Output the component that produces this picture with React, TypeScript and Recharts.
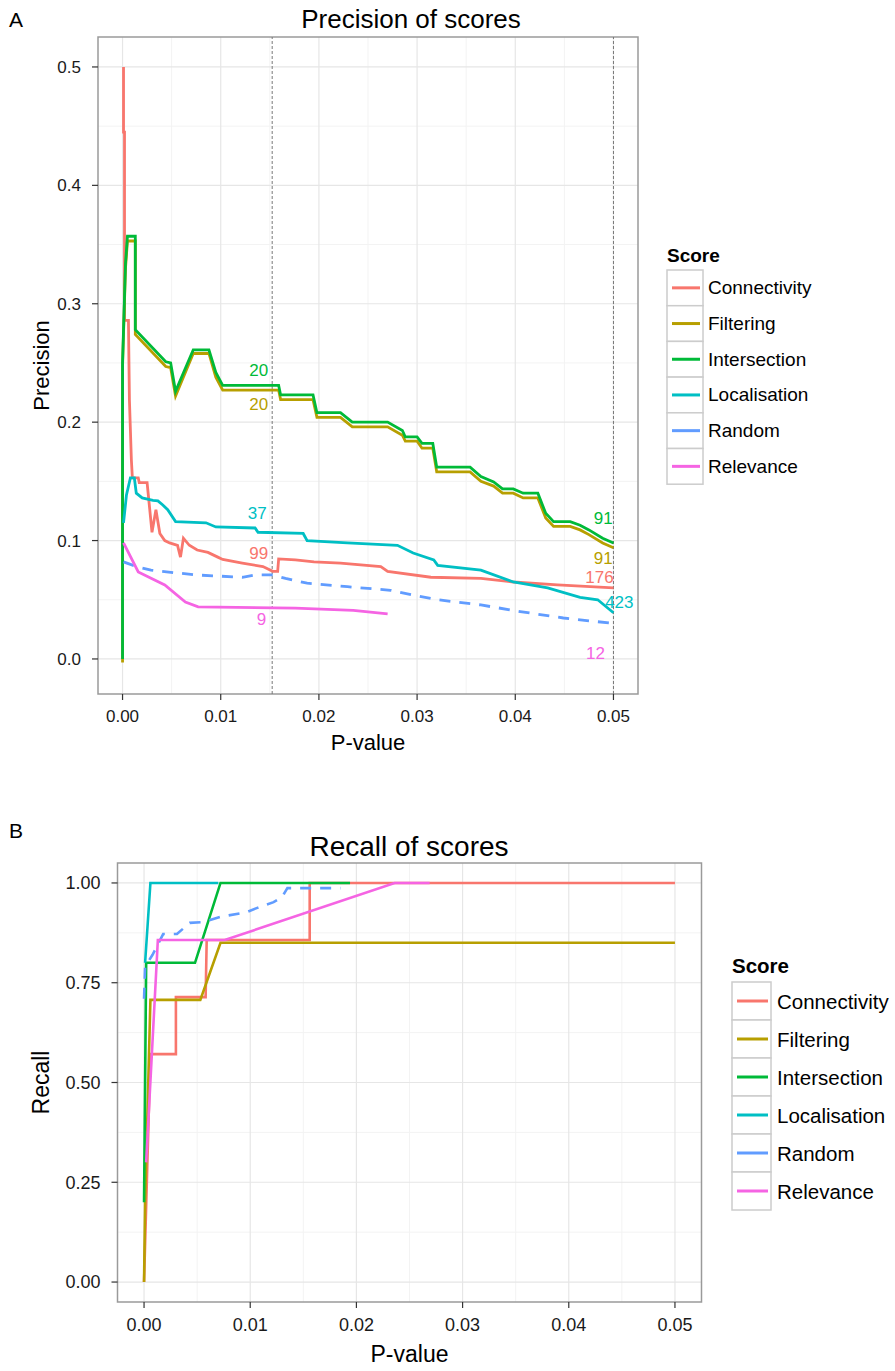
import React from 'react';
import {
  LineChart, Line, XAxis, YAxis, CartesianGrid, ReferenceLine, ReferenceDot, ReferenceArea, Legend,
} from 'recharts';

// ---------- shared ----------
const seriesNames = ['Connectivity', 'Filtering', 'Intersection', 'Localisation', 'Random', 'Relevance'];
const seriesColors = ['#F8766D', '#B79F00', '#00BA38', '#00BFC4', '#619CFF', '#F564E3'];
const seriesDashed = [false, false, false, false, true, false];

const xTicks = [0, 0.01, 0.02, 0.03, 0.04, 0.05];
const xMinor = [0.005, 0.015, 0.025, 0.035, 0.045];

// ---------- panel A: precision ----------
const precConnectivity: [number, number][] = [
  [0.0001, 0.5], [0.0001, 0.445], [0.0002, 0.445], [0.0002, 0.286], [0.0006, 0.286], [0.0007, 0.219],
  [0.0009, 0.168], [0.001, 0.153], [0.0016, 0.153], [0.0017, 0.149], [0.0025, 0.149], [0.003, 0.107],
  [0.0034, 0.126], [0.0038, 0.106], [0.0043, 0.1], [0.0048, 0.098], [0.0056, 0.096], [0.0059, 0.086],
  [0.0062, 0.102], [0.0068, 0.096], [0.0076, 0.092], [0.0087, 0.09], [0.0097, 0.086], [0.0102, 0.084],
  [0.0122, 0.081], [0.0143, 0.078], [0.0153, 0.074], [0.0158, 0.074], [0.0159, 0.0845], [0.0176, 0.0836],
  [0.0195, 0.082], [0.0222, 0.081], [0.0263, 0.078], [0.027, 0.074], [0.0314, 0.069], [0.0365, 0.068],
  [0.0398, 0.065], [0.0443, 0.0625], [0.05, 0.06],
];
const precFiltering: [number, number][] = [
  [0, -0.003], [0, 0.247], [0.0003, 0.33], [0.0005, 0.353], [0.0013, 0.353], [0.0013, 0.274],
  [0.0044, 0.247], [0.0049, 0.246], [0.0054, 0.222], [0.0072, 0.258], [0.0088, 0.258], [0.0095, 0.238],
  [0.0102, 0.227], [0.0159, 0.227], [0.0161, 0.219], [0.0194, 0.219], [0.0198, 0.204], [0.0222, 0.204],
  [0.0234, 0.196], [0.027, 0.196], [0.0285, 0.189], [0.0288, 0.184], [0.03, 0.184], [0.0305, 0.178],
  [0.0316, 0.178], [0.032, 0.158], [0.0354, 0.158], [0.0365, 0.15], [0.0378, 0.146], [0.0387, 0.14],
  [0.0398, 0.14], [0.0408, 0.136], [0.0423, 0.136], [0.0431, 0.119], [0.0439, 0.112], [0.0456, 0.112],
  [0.0466, 0.109], [0.0475, 0.105], [0.0489, 0.098], [0.05, 0.094],
];
const precIntersection: [number, number][] = [
  [0, 0], [0, 0.25], [0.0003, 0.334], [0.0005, 0.357], [0.0013, 0.357], [0.0013, 0.278],
  [0.0044, 0.251], [0.0049, 0.25], [0.0054, 0.226], [0.0072, 0.261], [0.0088, 0.261], [0.0095, 0.242],
  [0.0102, 0.231], [0.0159, 0.231], [0.0161, 0.223], [0.0194, 0.223], [0.0198, 0.208], [0.0222, 0.208],
  [0.0234, 0.2], [0.027, 0.2], [0.0285, 0.193], [0.0288, 0.1875], [0.03, 0.1875], [0.0305, 0.182],
  [0.0316, 0.182], [0.032, 0.162], [0.0354, 0.162], [0.0365, 0.154], [0.0378, 0.1495], [0.0387, 0.1436],
  [0.0398, 0.1436], [0.0408, 0.14], [0.0423, 0.14], [0.0431, 0.123], [0.0439, 0.116], [0.0456, 0.116],
  [0.0466, 0.113], [0.0475, 0.109], [0.0489, 0.102], [0.05, 0.098],
];
const precLocalisation: [number, number][] = [
  [0.0001, 0.115], [0.0004, 0.1385], [0.0008, 0.153], [0.0012, 0.153], [0.0014, 0.14], [0.002, 0.136],
  [0.0031, 0.134], [0.0036, 0.1335], [0.0041, 0.13], [0.0046, 0.126], [0.0054, 0.116], [0.0085, 0.115],
  [0.0095, 0.1115], [0.0135, 0.1106], [0.0138, 0.107], [0.0184, 0.106], [0.0188, 0.1], [0.0229, 0.098],
  [0.028, 0.096], [0.0296, 0.0895], [0.0317, 0.0836], [0.0321, 0.079], [0.0365, 0.075], [0.0398, 0.065],
  [0.0433, 0.06], [0.0466, 0.052], [0.0484, 0.05], [0.05, 0.039],
];
const precRandom: [number, number][] = [
  [0.0001, 0.082], [0.0015, 0.0777], [0.0029, 0.075], [0.0074, 0.071], [0.0122, 0.069], [0.0135, 0.071],
  [0.0153, 0.071], [0.0166, 0.068], [0.0188, 0.064], [0.0229, 0.061], [0.0273, 0.058], [0.0296, 0.054],
  [0.0321, 0.05], [0.0365, 0.0456], [0.0405, 0.04], [0.0449, 0.0346], [0.05, 0.03],
];
const precRelevance: [number, number][] = [
  [0.0001, 0.098], [0.0016, 0.0735], [0.0043, 0.0625], [0.0064, 0.048], [0.0077, 0.044], [0.0176, 0.043],
  [0.0235, 0.041], [0.027, 0.038],
];
const precSeries = [precConnectivity, precFiltering, precIntersection, precLocalisation, precRandom, precRelevance];
const precYTicks = [0, 0.1, 0.2, 0.3, 0.4, 0.5];
const precYMinor = [0.05, 0.15, 0.25, 0.35, 0.45];
const precCutoffs = [0.01524, 0.05];
// count annotations: [x, y, text, series index]
const precNotes: [number, number, string, number][] = [
  [0.01388, 0.2441, '20', 2], [0.01388, 0.2154, '20', 1], [0.01371, 0.1236, '37', 3],
  [0.01388, 0.0898, '99', 0], [0.01415, 0.0335, '9', 5],
  [0.04895, 0.1188, '91', 2], [0.04895, 0.0856, '91', 1], [0.04857, 0.0695, '176', 0],
  [0.0506, 0.0484, '423', 3], [0.04817, 0.0048, '12', 5],
];

// ---------- panel B: recall ----------
const recConnectivity: [number, number][] = [
  [0, 0], [0.0006, 0.571], [0.003, 0.571], [0.003, 0.714], [0.0058, 0.714], [0.0059, 0.857],
  [0.0156, 0.857], [0.0156, 1.0], [0.05, 1.0],
];
const recFiltering: [number, number][] = [
  [0, 0], [0.0001, 0.2], [0.0006, 0.707], [0.0053, 0.707], [0.0072, 0.85], [0.05, 0.85],
];
const recIntersection: [number, number][] = [
  [0, 0.2], [0.0002, 0.8], [0.0048, 0.8], [0.0072, 1.0], [0.0194, 1.0],
];
const recLocalisation: [number, number][] = [
  [0.0001, 0.8], [0.0006, 1.0], [0.007, 1.0],
];
const recRandom: [number, number][] = [
  [0, 0.71], [0.0001, 0.79], [0.0008, 0.82], [0.0018, 0.872], [0.0031, 0.872], [0.0043, 0.9],
  [0.0056, 0.902], [0.0072, 0.915], [0.0097, 0.927], [0.0106, 0.937], [0.0122, 0.952], [0.013, 0.965],
  [0.0135, 0.987], [0.0185, 0.987],
];
const recRelevance: [number, number][] = [
  [0.0002, 0.3], [0.0013, 0.857], [0.0076, 0.857], [0.0236, 1.0], [0.0269, 1.0],
];
const recSeries = [recConnectivity, recFiltering, recIntersection, recLocalisation, recRandom, recRelevance];
const recYTicks = [0, 0.25, 0.5, 0.75, 1.0];
const recYMinor = [0.125, 0.375, 0.625, 0.875];

const FONT = '"Liberation Sans", Arial, Helvetica, sans-serif';

const toRows = (pts: [number, number][]) => pts.map(([x, y]) => ({ x, y }));

function LegendBox({ fontSize, rowH, boxW, lineX1, lineX2, textX, titleY, rowTop }: any) {
  return (
    <svg width={200} height={rowTop + rowH * 6 + 4} style={{ overflow: 'visible', display: 'block' }}>
      <text x={7} y={titleY} fontSize={fontSize} fontWeight="bold" fill="#000" fontFamily={FONT}>Score</text>
      {seriesNames.map((n, i) => {
        const y0 = rowTop + i * rowH;
        return (
          <g key={n}>
            <rect x={7} y={y0} width={boxW} height={rowH} fill="#fff" stroke="#cccccc" strokeWidth={1.5} />
            <line x1={lineX1} x2={lineX2} y1={y0 + rowH / 2} y2={y0 + rowH / 2} stroke={seriesColors[i]} strokeWidth={3} />
            <text x={textX} y={y0 + rowH / 2} dominantBaseline="central" fontSize={fontSize} fill="#000" fontFamily={FONT}>{n}</text>
          </g>
        );
      })}
    </svg>
  );
}

function YTitle(props: any) {
  const { viewBox, text, cx, fontSize } = props;
  const cy = viewBox.y + viewBox.height / 2;
  return (
    <text x={cx} y={cy} transform={`rotate(-90 ${cx} ${cy})`} textAnchor="middle" dominantBaseline="central"
      fontSize={fontSize} fill="#000" fontFamily={FONT}>{text}</text>
  );
}

export default function App() {
  return (
    <div style={{ position: 'relative', width: 895, height: 1371, background: '#fff', fontFamily: FONT, overflow: 'hidden' }}>
      <style>{'body{margin:0;}'}</style>

      {/* Panel A */}
      <div style={{ position: 'absolute', left: 0, top: 0 }}>
        <LineChart width={895} height={790} margin={{ top: 37, right: 257, bottom: 0, left: 0 }}>
          <CartesianGrid stroke="#f3f3f3" strokeWidth={1} verticalValues={xMinor} horizontalValues={precYMinor} />
          <CartesianGrid stroke="#e6e6e6" strokeWidth={1.2} verticalValues={xTicks} horizontalValues={precYTicks} />
          <XAxis type="number" dataKey="x" domain={[-0.0025, 0.0525]} allowDataOverflow ticks={xTicks}
            tickFormatter={(v: number) => v.toFixed(2)} height={96} axisLine={false}
            tick={{ fontSize: 17, fill: '#1a1a1a', fontFamily: FONT }} tickLine={{ stroke: '#333', strokeWidth: 1.2 }}
            tickSize={6} tickMargin={10}
            label={{ value: 'P-value', position: 'insideBottom', offset: 40, fontSize: 22, fill: '#000', fontFamily: FONT }} />
          <YAxis type="number" domain={[-0.0296, 0.5253]} allowDataOverflow ticks={precYTicks}
            tickFormatter={(v: number) => v.toFixed(1)} width={98} axisLine={false}
            tick={{ fontSize: 17, fill: '#1a1a1a', fontFamily: FONT }} tickLine={{ stroke: '#333', strokeWidth: 1.2 }}
            tickSize={6} tickMargin={11}
            label={{ content: (p: any) => <YTitle {...p} text="Precision" cx={41} fontSize={22} /> }} />
          {precCutoffs.map((c) => (
            <ReferenceLine key={c} x={c} stroke="#777" strokeWidth={1} strokeDasharray="3 2" />
          ))}
          {precSeries.map((s, i) => (
            <Line key={seriesNames[i]} data={toRows(s)} dataKey="y" type="linear" stroke={seriesColors[i]}
              strokeWidth={2.8} dot={false} isAnimationActive={false}
              strokeDasharray={seriesDashed[i] ? '11 9' : undefined} />
          ))}
          {precNotes.map(([x, y, t, si], k) => (
            <ReferenceDot key={k} x={x} y={y} r={0} fill="none" stroke="none" ifOverflow="visible"
              label={{ value: t, position: 'center', fill: seriesColors[si], fontSize: 17, fontFamily: FONT }} />
          ))}
          <ReferenceArea x1={-0.0025} x2={0.0525} y1={-0.0296} y2={0.5253} fill="none" stroke="#9a9a9a" strokeWidth={1.5} ifOverflow="visible" />
          <Legend layout="vertical" align="center" verticalAlign="middle"
            wrapperStyle={{ left: 660, top: 240, width: 200, height: 260 }}
            content={() => <LegendBox fontSize={19} rowH={35.7} boxW={36} lineX1={12} lineX2={40} textX={48} titleY={22} rowTop={30} />} />
        </LineChart>
      </div>

      {/* Panel B */}
      <div style={{ position: 'absolute', left: 0, top: 800 }}>
        <LineChart width={895} height={571} margin={{ top: 63, right: 193.5, bottom: 0, left: 0 }}>
          <CartesianGrid stroke="#f3f3f3" strokeWidth={1} verticalValues={xMinor} horizontalValues={recYMinor} />
          <CartesianGrid stroke="#e6e6e6" strokeWidth={1.2} verticalValues={xTicks} horizontalValues={recYTicks} />
          <XAxis type="number" dataKey="x" domain={[-0.0025, 0.0525]} allowDataOverflow ticks={xTicks}
            tickFormatter={(v: number) => v.toFixed(2)} height={69} axisLine={false}
            tick={{ fontSize: 18, fill: '#1a1a1a', fontFamily: FONT }} tickLine={{ stroke: '#333', strokeWidth: 1.2 }}
            tickSize={6} tickMargin={10}
            label={{ value: 'P-value', position: 'insideBottom', offset: 9, fontSize: 23, fill: '#000', fontFamily: FONT }} />
          <YAxis type="number" domain={[-0.05, 1.05]} allowDataOverflow ticks={recYTicks}
            tickFormatter={(v: number) => v.toFixed(2)} width={117.5} axisLine={false}
            tick={{ fontSize: 18, fill: '#1a1a1a', fontFamily: FONT }} tickLine={{ stroke: '#333', strokeWidth: 1.2 }}
            tickSize={6} tickMargin={11}
            label={{ content: (p: any) => <YTitle {...p} text="Recall" cx={41} fontSize={23} /> }} />
          {recSeries.map((s, i) => (
            <Line key={seriesNames[i]} data={toRows(s)} dataKey="y" type="linear" stroke={seriesColors[i]}
              strokeWidth={2.6} dot={false} isAnimationActive={false}
              strokeDasharray={seriesDashed[i] ? '11 9' : undefined} />
          ))}
          <ReferenceArea x1={-0.0025} x2={0.0525} y1={-0.05} y2={1.05} fill="none" stroke="#9a9a9a" strokeWidth={1.5} ifOverflow="visible" />
          <Legend layout="vertical" align="center" verticalAlign="middle"
            wrapperStyle={{ left: 725, top: 150, width: 200, height: 280 }}
            content={() => <LegendBox fontSize={20.5} rowH={38} boxW={39} lineX1={12} lineX2={43} textX={52} titleY={23} rowTop={32} />} />
        </LineChart>
      </div>

      {/* Titles and panel letters */}
      <svg width={895} height={1371} style={{ position: 'absolute', left: 0, top: 0, pointerEvents: 'none' }}>
        <text x={9} y={27} fontSize={21} fill="#000" fontFamily={FONT}>A</text>
        <text x={411} y={28} fontSize={26} textAnchor="middle" fill="#000" fontFamily={FONT}>Precision of scores</text>
        <text x={9} y={838} fontSize={21} fill="#000" fontFamily={FONT}>B</text>
        <text x={409} y={856} fontSize={28} textAnchor="middle" fill="#000" fontFamily={FONT}>Recall of scores</text>
      </svg>
    </div>
  );
}
